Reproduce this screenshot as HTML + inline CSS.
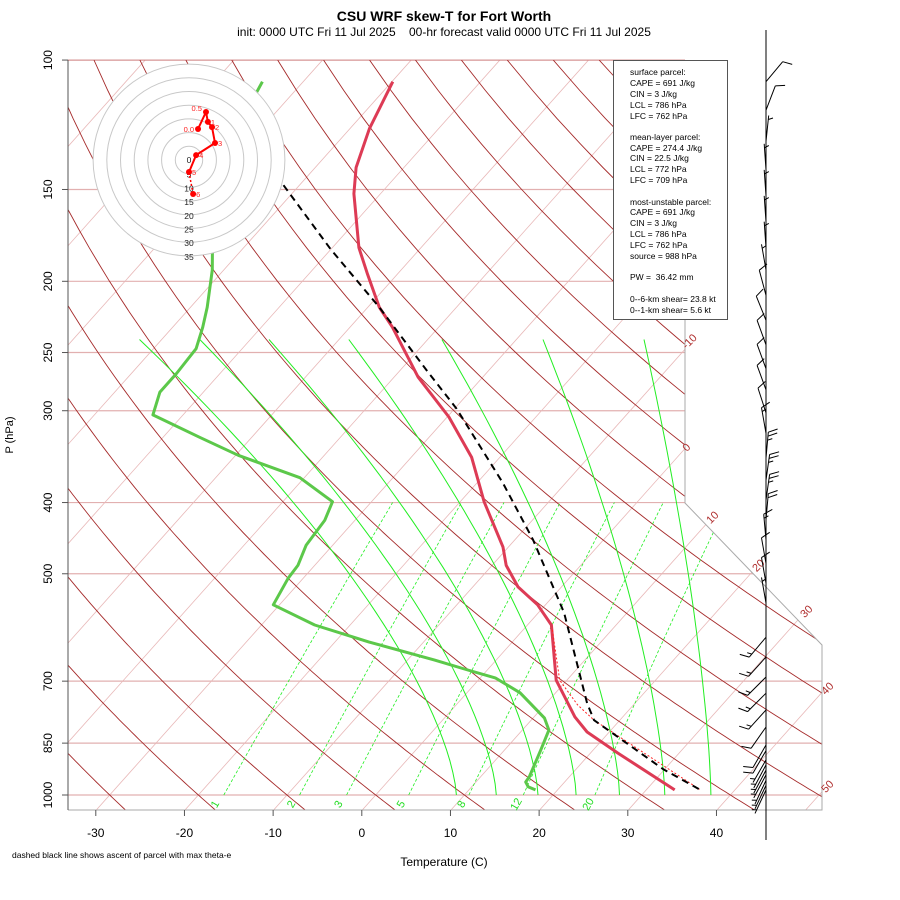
<!DOCTYPE html>
<html><head><meta charset="utf-8"><title>CSU WRF skew-T for Fort Worth</title>
<style>
html,body{margin:0;padding:0;background:#fff;}
svg{display:block;font-family:"Liberation Sans",sans-serif;}
</style></head>
<body>
<svg id="chart" width="900" height="900" viewBox="0 0 900 900">
<rect x="0" y="0" width="900" height="900" fill="#fff"/>
<defs><clipPath id="plotclip"><polygon points="68,60 685,60 685,503 822,645 822,810 68,810"/></clipPath></defs>
<text x="444" y="21" text-anchor="middle" font-size="14" font-weight="bold">CSU WRF skew-T for Fort Worth</text>
<text x="444" y="36" text-anchor="middle" font-size="12" xml:space="preserve">init: 0000 UTC Fri 11 Jul 2025    00-hr forecast valid 0000 UTC Fri 11 Jul 2025</text>
<g id="grid" clip-path="url(#plotclip)"></g>
<g id="series" clip-path="url(#plotclip)"></g>
<polyline points="685,60 685,503 822,645 822,810 68,810" fill="none" stroke="#aaa" stroke-width="1"/>
<line x1="68" y1="60" x2="68" y2="810" stroke="#555" stroke-width="1"/>
<line x1="68" y1="60" x2="685" y2="60" stroke="#b03030" stroke-width="0.6"/>
<g id="axes"></g>
<g font-size="11" fill="#b03030">
<text transform="translate(692,344) rotate(-45)" text-anchor="middle">-10</text>
<text transform="translate(689,450) rotate(-45)" text-anchor="middle">0</text>
<text transform="translate(715,520) rotate(-45)" text-anchor="middle">10</text>
<text transform="translate(761,568) rotate(-45)" text-anchor="middle">20</text>
<text transform="translate(809,614) rotate(-45)" text-anchor="middle">30</text>
<text transform="translate(830,691) rotate(-45)" text-anchor="middle">40</text>
<text transform="translate(830,789) rotate(-45)" text-anchor="middle">50</text>
</g>
<g id="hodo"></g>
<g id="barbs">
<line x1="766" y1="30" x2="766" y2="840" stroke="#000" stroke-width="1"/>
</g>
<g>
<rect x="613.5" y="60.5" width="114" height="259" fill="#fff" stroke="#555" stroke-width="1"/>
<g font-size="8.5" fill="#000">
<text x="630" y="75">surface parcel:</text>
<text x="630" y="86">CAPE = 691 J/kg</text>
<text x="630" y="97">CIN = 3 J/kg</text>
<text x="630" y="108">LCL = 786 hPa</text>
<text x="630" y="119">LFC = 762 hPa</text>
<text x="630" y="140">mean-layer parcel:</text>
<text x="630" y="151">CAPE = 274.4 J/kg</text>
<text x="630" y="161">CIN = 22.5 J/kg</text>
<text x="630" y="172">LCL = 772 hPa</text>
<text x="630" y="183">LFC = 709 hPa</text>
<text x="630" y="205">most-unstable parcel:</text>
<text x="630" y="215">CAPE = 691 J/kg</text>
<text x="630" y="226">CIN = 3 J/kg</text>
<text x="630" y="237">LCL = 786 hPa</text>
<text x="630" y="248">LFC = 762 hPa</text>
<text x="630" y="259">source = 988 hPa</text>
<text x="630" y="280" xml:space="preserve">PW =  36.42 mm</text>
<text x="630" y="302">0--6-km shear= 23.8 kt</text>
<text x="630" y="313">0--1-km shear= 5.6 kt</text>
</g></g>
<text transform="translate(13,435) rotate(-90)" text-anchor="middle" font-size="11">P (hPa)</text>
<text x="444" y="866" text-anchor="middle" font-size="12">Temperature (C)</text>
<text x="12" y="858" font-size="8.5">dashed black line shows ascent of parcel with max theta-e</text>
</svg>
<script>
// ---- data ----
const pressureTicks = [100,150,200,250,300,400,500,700,850,1000];
const tempTicks = [-30,-20,-10,0,10,20,30,40];
const mixRatios = [1,2,3,5,8,12,20];
const moistStartT = [9.1,13.6,18.3,22.6,27.5,32.6,37.8];
const moistTopT = [-72.5,-65.7,-57.9,-48.9,-38.4,-27.0,-15.6];
const envP = [107,124,140,152,180,195,217,231,270,306,347,399,460,487,521,551,587,698,783,821,877,984];
const envT = [-69.9,-67.8,-65.4,-63.0,-57.0,-53.5,-48.7,-45.2,-37.3,-29.8,-23.2,-17.3,-10.6,-8.4,-4.9,-0.9,2.7,8.8,14.6,17.5,23.1,33.2];
const dewP = [107,115,155,183,193,217,231,247,267,283,304,326,345,370,399,423,457,487,507,551,587,619,655,676,693,726,786,816,869,945,960,975,984];
const dewT = [-84.6,-83.7,-78.0,-73.0,-71.3,-68.1,-66.6,-65.2,-64.9,-64.9,-63.4,-55.9,-49.7,-40.5,-34.4,-33.4,-33.0,-31.9,-31.7,-30.7,-24.0,-16.2,-7.0,-2.2,1.7,6.0,11.3,13.0,14.1,15.5,15.6,16.4,17.5];
const parcelP = [148,181,217,264,298,376,450,565,750,791,831,922,984];
const parcelT = [-71.8,-60.0,-48.7,-37.1,-29.8,-17.1,-7.9,2.9,14.6,17.1,21.2,29.8,36.1];
const virtP = [596,698,754,791,984];
const virtT = [3.3,9.2,13.7,17.1,36.1];
const hodoLabels = ['0.0','0.5','1','2','3','4','5','6'];
const hodoU = [3.3,6.2,6.9,8.4,9.5,2.6,0.0,1.5];
const hodoV = [11.3,17.5,13.9,12.0,6.2,1.8,-4.4,-12.4];
const hodoRings = [5,10,15,20,25,30,35];
const barbP = [107,117,129,141,153,166,180,193,209,226,244,263,281,302,322,348,373,397,422,450,484,515,548,610,649,691,727,766,808,855,870,896,910,925,939,955,970,984];
const barbDir = [40,21,6,356,356,356,356,350,345,338,340,340,340,342,350,5,8,8,5,355,350,350,350,220,222,225,225,222,215,210,210,210,208,208,208,205,205,205];
const barbSpd = [10,10,5,5,5,5,5,5,10,10,10,10,10,10,15,25,25,25,20,15,10,10,5,15,15,15,15,15,10,10,10,5,5,5,5,5,5,5];

// ---- scales ----
function yu(p){ return 44.061*Math.log10(1000/p); }
function yOf(p){ return 795 - 16.68*yu(p); }
function xOf(T,p){ return 375.7 + 16.42*(0.54*T + 0.90692*yu(p)); }
const NS='http://www.w3.org/2000/svg';
function el(tag,parent){ const e=document.createElementNS(NS,tag); parent.appendChild(e); return e; }
function pathFrom(pts){ return pts.map((q,i)=>(i?'L':'M')+q[0].toFixed(1)+','+q[1].toFixed(1)).join(''); }
const grid=document.getElementById('grid'), series=document.getElementById('series'), axes=document.getElementById('axes');

// pressure gridlines + y ticks
pressureTicks.forEach(p=>{
  const y=yOf(p);
  const l=el('line',grid);
  
  
  l.setAttribute('x1',68);l.setAttribute('x2',822);l.setAttribute('y1',y);l.setAttribute('y2',y);
  l.setAttribute('stroke','#e2b0b0');l.setAttribute('stroke-width','1.2');
  const t=el('line',axes);
  
  
  t.setAttribute('x1',62);t.setAttribute('x2',68);t.setAttribute('y1',y);t.setAttribute('y2',y);t.setAttribute('stroke','#555');
  const lb=el('text',axes);
  
  
  lb.setAttribute('transform','translate(52,'+y+') rotate(-90)');
  lb.setAttribute('text-anchor','middle');lb.setAttribute('font-size','12');
  lb.textContent=p;
});
// x ticks
tempTicks.forEach(T=>{
  const x=xOf(T,1050);
  const t=el('line',axes);
  
  
  t.setAttribute('x1',x);t.setAttribute('x2',x);t.setAttribute('y1',810);t.setAttribute('y2',816);t.setAttribute('stroke','#555');
  const lb=el('text',axes);
  
  
  lb.setAttribute('x',x);lb.setAttribute('y',837);lb.setAttribute('text-anchor','middle');lb.setAttribute('font-size','12');
  lb.textContent=T;
});
// isotherms
for(let T=-130;T<=50;T+=10){
  const l=el('line',grid);
  
  
  l.setAttribute('x1',xOf(T,1050));l.setAttribute('y1',yOf(1050));l.setAttribute('x2',xOf(T,100));l.setAttribute('y2',yOf(100));
  l.setAttribute('stroke','#e8b8b8');l.setAttribute('stroke-width','0.8');
}
// dry adiabats
for(let th=-60;th<=220;th+=10){
  const pts=[];
  for(let p=1050;p>=100;p-=10){ const T=(th+273.15)*Math.pow(p/1000,0.2857)-273.15; pts.push([xOf(T,p),yOf(p)]); }
  const pa=el('path',grid);
  
  
  pa.setAttribute('d',pathFrom(pts));pa.setAttribute('fill','none');pa.setAttribute('stroke','#a52a2a');pa.setAttribute('stroke-width','0.9');
}
// mixing ratio lines
function tdFromW(w,p){ const e=w*p/(622+w); const a=Math.log(e/6.112); return 243.5*a/(17.67-a); }
mixRatios.forEach(w=>{
  const pts=[];
  for(let p=1050;p>=400;p-=10){ pts.push([xOf(tdFromW(w,p),p),yOf(p)]); }
  const pa=el('path',grid);
  
  
  pa.setAttribute('d',pathFrom(pts.filter(q=>q[1]<=795))); pa.setAttribute('fill','none');pa.setAttribute('stroke','#22ee22');pa.setAttribute('stroke-width','0.8');pa.setAttribute('stroke-dasharray','3,2');
  const lb=el('text',axes);
  
  
  lb.setAttribute('transform','translate('+(xOf(tdFromW(w,1050),1050)+3).toFixed(1)+',806) rotate(-60)');
  lb.setAttribute('text-anchor','middle');lb.setAttribute('font-size','11');lb.setAttribute('fill','#22dd22');
  lb.textContent=w;
});
// moist adiabats (approximate curves between 1000 hPa and 240 hPa)
moistStartT.forEach((T0,i)=>{
  const xb=xOf(T0,1000), yb=yOf(1000), xt=xOf(moistTopT[i],240), yt=yOf(240);
  const pts=[];
  for(let k=0;k<=40;k++){ const f=k/40; pts.push([xb+(xt-xb)*Math.pow(f,1.5), yb+(yt-yb)*f]); }
  const pa=el('path',grid);
  
  
  pa.setAttribute('d',pathFrom(pts));pa.setAttribute('fill','none');pa.setAttribute('stroke','#22ee22');pa.setAttribute('stroke-width','1');
});
// series
function drawSeries(P,T,name,stroke,width,dash){
  const pts=P.map((p,i)=>[xOf(T[i],p),yOf(p)]);
  const pa=el('path',series);
  
  
  pa.setAttribute('d',pathFrom(pts));pa.setAttribute('fill','none');pa.setAttribute('stroke',stroke);pa.setAttribute('stroke-width',width);
  pa.setAttribute('stroke-linejoin','round');
  if(dash) pa.setAttribute('stroke-dasharray',dash);
}
drawSeries(dewP,dewT,'dewpoint-line','#5cc84a',3,null);
drawSeries(envP,envT,'temperature-line','#dd3b55',3,null);
drawSeries(virtP,virtT,'virtual-temperature-line','#ff2020',1,'2,2');
drawSeries(parcelP,parcelT,'parcel-ascent-line','#000',2,'7,5');

// hodograph
const hodo=document.getElementById('hodo'); const hc=[189,160], hk=2.74;
hodoRings.slice().reverse().forEach((r,i)=>{
  const c=el('circle',hodo);
  
  
  c.setAttribute('cx',hc[0]);c.setAttribute('cy',hc[1]);c.setAttribute('r',r*hk);
  c.setAttribute('fill',i===0?'#fff':'none');c.setAttribute('stroke','#c8c8c8');c.setAttribute('stroke-width','1');
});
['0'].concat(hodoRings.map(String)).forEach((s,i)=>{
  const r=i===0?0:hodoRings[i-1]*hk;
  const t=el('text',hodo);
  
  
  t.setAttribute('x',hc[0]);t.setAttribute('y',hc[1]+r+(i===0?3:4));t.setAttribute('text-anchor','middle');t.setAttribute('font-size','8.5');t.setAttribute('fill','#222');
  t.textContent=s;
});
const hp=hodoU.map((u,i)=>[hc[0]+u*hk,hc[1]-hodoV[i]*hk]);
const hl=el('path',hodo);


hl.setAttribute('d',pathFrom(hp.slice(0,7)));hl.setAttribute('fill','none');hl.setAttribute('stroke','#ff0000');hl.setAttribute('stroke-width','2');
const hl2=el('path',hodo);


hl2.setAttribute('d',pathFrom(hp.slice(6)));hl2.setAttribute('fill','none');hl2.setAttribute('stroke','#ff0000');hl2.setAttribute('stroke-width','1.5');hl2.setAttribute('stroke-dasharray','2,2');
hp.forEach((q,i)=>{
  const c=el('circle',hodo);
  
  
  c.setAttribute('cx',q[0]);c.setAttribute('cy',q[1]);c.setAttribute('r',3);c.setAttribute('fill','#ff0000');
  const t=el('text',hodo);
  
  
  const left=(i===0||i===1);
  t.setAttribute('x',q[0]+(left?-4:3));t.setAttribute('y',q[1]+(i===1?-1:3));t.setAttribute('text-anchor',left?'end':'start');
  t.setAttribute('font-size','7.5');t.setAttribute('fill','#ff2020');
  t.textContent=hodoLabels[i];
});

// wind barbs
const barbs=document.getElementById('barbs');
barbP.forEach((p,i)=>{
  const y=yOf(p), d=barbDir[i]*Math.PI/180, ux=Math.sin(d), uy=-Math.cos(d), L=26;
  const ex=766+L*ux, ey=y+L*uy;
  const g=el('g',barbs);
  
  
  let dstr='M766,'+y.toFixed(1)+'L'+ex.toFixed(1)+','+ey.toFixed(1);
  const fx=-uy*0.9+ux*0.4, fy=ux*0.9+uy*0.4;
  let s=barbSpd[i], k=0;
  while(s>=10){ const bx=ex-ux*k*4, by=ey-uy*k*4; dstr+='M'+bx.toFixed(1)+','+by.toFixed(1)+'l'+(fx*10).toFixed(1)+','+(fy*10).toFixed(1); s-=10; k++; }
  if(s>=5){ if(k===0)k=1; const bx=ex-ux*k*4, by=ey-uy*k*4; dstr+='M'+bx.toFixed(1)+','+by.toFixed(1)+'l'+(fx*5).toFixed(1)+','+(fy*5).toFixed(1); }
  const pa=el('path',g);
  
  
  pa.setAttribute('d',dstr);pa.setAttribute('fill','none');pa.setAttribute('stroke','#000');pa.setAttribute('stroke-width','1');
});
</script>
</body></html>
